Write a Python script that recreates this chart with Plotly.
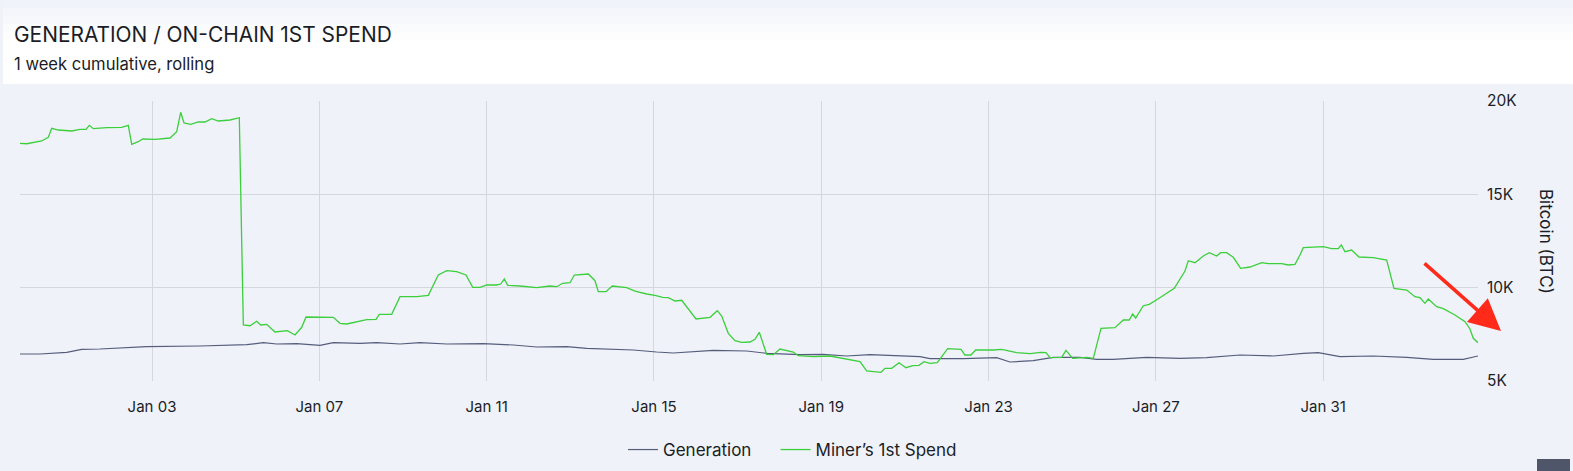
import pandas as pd
import plotly.graph_objects as go

# Time of each reading, in fractional days of January 2023 (0 = Dec 31 00:00)
spend_day = [-0.156, 0.005, 0.363, 0.521, 0.602, 0.760, 1.080, 1.279, 1.422, 1.501, 1.597, 1.917,
             2.276, 2.433, 2.515, 2.672, 2.778, 3.072, 3.430, 3.590, 3.686, 3.765, 3.925, 4.107,
             4.267, 4.427, 4.585, 4.865, 5.087, 5.183, 5.343, 5.503, 5.599, 5.742, 5.940, 6.234,
             6.419, 6.579, 6.682, 7.334, 7.494, 7.655, 8.133, 8.355, 8.434, 8.730, 8.929, 9.328,
             9.605, 9.844, 10.045, 10.284, 10.506, 10.667, 10.841, 11.001, 11.240, 11.336, 11.422,
             11.503, 11.797, 12.197, 12.515, 12.675, 12.818, 12.993, 13.096, 13.430, 13.590, 13.669,
             13.853, 14.004, 14.348, 14.547, 14.826, 15.025, 15.209, 15.343, 15.503, 15.663, 16.005,
             16.340, 16.514, 16.619, 16.777, 16.937, 17.097, 17.296, 17.415, 17.518, 17.695, 17.853,
             18.013, 18.331, 18.451, 18.809, 19.208, 19.608, 19.925, 20.085, 20.428, 20.523, 20.683,
             20.858, 21.025, 21.185, 21.336, 21.456, 21.599, 21.773, 22.022, 22.340, 22.436, 22.579,
             22.691, 23.112, 23.313, 23.671, 23.990, 24.245, 24.372, 24.468, 24.747, 24.850, 25.010,
             25.345, 25.503, 25.687, 26.021, 26.220, 26.363, 26.444, 26.516, 26.698, 26.842, 27.057,
             27.336, 27.439, 27.695, 27.774, 27.934, 28.133, 28.276, 28.453, 28.548, 28.692, 28.850,
             29.026, 29.249, 29.529, 29.686, 30.007, 30.165, 30.325, 30.444, 30.523, 31.001, 31.202,
             31.360, 31.432, 31.520, 31.680, 31.855, 32.197, 32.517, 32.691, 32.995, 33.193, 33.313,
             33.432, 33.511, 33.712, 33.870, 34.150, 34.389, 34.508, 34.587, 34.700]
spend_btc = [17732, 17710, 17857, 18055, 18537, 18446, 18393, 18482, 18482, 18696, 18518, 18571,
             18590, 18696, 17680, 17820, 17964, 17948, 18018, 18355, 19394, 18821, 18750, 18875,
             18875, 19052, 18928, 18982, 19105, 8000, 7962, 8198, 8000, 8037, 7625, 7695,
             7464, 7877, 8428, 8410, 8090, 8053, 8284, 8305, 8573, 8573, 9516, 9516,
             9591, 10678, 10909, 10855, 10678, 10020, 10020, 10143, 10143, 10196, 10464,
             10127, 10089, 9998, 10089, 10052, 10234, 10266, 10678, 10732, 10373, 9784,
             9784, 10089, 9998, 9821, 9661, 9591, 9484, 9462, 9286, 9323, 8321,
             8412, 8766, 8482, 7554, 7159, 7073, 7089, 7234, 7609, 6430, 6409,
             6714, 6553, 6355, 6302, 6339, 6179, 6034, 5536, 5466, 5680, 5680,
             5980, 5712, 5820, 5841, 6034, 5948, 5980, 6730, 6698, 6393, 6393,
             6661, 6661, 6698, 6516, 6462, 6537, 6516, 6248, 6270, 6645, 6216,
             6270, 6216, 7823, 7855, 8268, 8268, 8589, 8375, 9034, 9109, 9409,
             9837, 9966, 10893, 11445, 11338, 11696, 11873, 11696, 11873, 11873, 11627,
             11038, 11107, 11338, 11284, 11284, 11214, 11252, 11750, 12141, 12195, 12087,
             12087, 12286, 11927, 12018, 11643, 11605, 11482, 9966, 9875, 9516, 9462,
             9162, 9393, 8980, 8873, 8536, 8177, 7786, 7287, 7052]

gen_day = [-0.156, 0.323, 0.961, 1.319, 1.757, 2.873, 4.147, 5.264, 5.661, 5.981, 6.459, 7.016,
           7.334, 7.972, 8.372, 8.929, 9.407, 10.045, 10.920, 11.637, 12.197, 12.914, 13.392,
           14.028, 14.506, 15.065, 15.462, 16.418, 17.217, 17.695, 18.491, 19.048, 19.608,
           20.164, 21.360, 21.599, 22.395, 23.193, 23.511, 24.068, 24.547, 25.185, 25.584,
           25.981, 26.779, 27.575, 28.214, 29.010, 29.806, 30.523, 30.882, 31.400, 32.197,
           32.995, 33.631, 34.348, 34.700]
gen_btc = [6446, 6446, 6537, 6698, 6714, 6838, 6875, 6945, 7052, 6982, 6998, 6912,
           7052, 7020, 7052, 6982, 7052, 6982, 6998, 6929, 6821, 6838, 6752,
           6698, 6661, 6553, 6500, 6645, 6607, 6484, 6409, 6430, 6339,
           6409, 6302, 6195, 6195, 6248, 6018, 6088, 6270, 6270, 6162,
           6162, 6270, 6216, 6248, 6393, 6339, 6484, 6516, 6302, 6339,
           6270, 6162, 6162, 6339]

y_ticks = [5000, 10000, 15000, 20000]
y_tick_text = ["5K", "10K", "15K", "20K"]

base = pd.Timestamp("2022-12-31")
def to_dt(days):
    return [base + pd.to_timedelta(d, unit="D") for d in days]

gen_x = to_dt(gen_day)
spend_x = to_dt(spend_day)

BG = "#eff2f9"
FONT = "Inter, Roboto, Arial, sans-serif"
TXT = "#1b1d26"
W, H = 1573, 471
L, R, T, B = 20, 95, 101, 90
PW, PH = W - L - R, H - T - B
PAD = "\u00a0" * 4

def px(xp):
    return (xp - L) / PW

def py(yp):
    return (H - B - yp) / PH

fig = go.Figure()
fig.add_trace(go.Scatter(x=gen_x, y=gen_btc, mode="lines", name="Generation" + PAD,
                         line=dict(color="#565d7c", width=1.2)))
fig.add_trace(go.Scatter(x=spend_x, y=spend_btc, mode="lines", name="Miner\u2019s 1st Spend",
                         line=dict(color="#3ccf3c", width=1.3)))

fig.update_layout(
    width=W, height=H, autosize=False,
    margin=dict(l=L, r=R, t=T, b=B, autoexpand=False),
    paper_bgcolor=BG, plot_bgcolor=BG,
    font=dict(family=FONT, color=TXT, size=15),
    showlegend=True,
    legend=dict(orientation="h", xref="paper", x=px(623), xanchor="left",
                yref="paper", y=py(450), yanchor="middle",
                font=dict(size=17, color=TXT), bgcolor="rgba(0,0,0,0)",
                traceorder="normal"),
    xaxis=dict(type="date", range=[to_dt([-0.156])[0], to_dt([34.70])[0]],
               tick0="2023-01-03", dtick=4 * 86400000, tickformat="%b %d",
               showgrid=True, gridcolor="#d5d7de", gridwidth=1, automargin=False,
               zeroline=False, showline=False, ticks="",
               ticklabelstandoff=15, tickfont=dict(size=15, color=TXT)),
    yaxis=dict(side="right", range=[5000, 20000], tickvals=y_ticks, ticktext=y_tick_text,
               showgrid=True, gridcolor="#d5d7de", gridwidth=1, zeroline=False, automargin=False,
               showline=False, ticks="", ticklabelstandoff=8,
               tickfont=dict(size=15.5, color=TXT)),
    hovermode="x unified",
)

# header band (white, fading to background at the very top)
fig.add_shape(type="rect", xref="paper", yref="paper", x0=px(3), x1=px(W),
              y0=py(84), y1=py(40),
              fillcolor="#ffffff", line=dict(width=0), layer="below")
for i, col in enumerate(["#fdfdfe", "#fafbfd", "#f7f8fc", "#f4f6fb", "#f1f3fa"]):
    fig.add_shape(type="rect", xref="paper", yref="paper", x0=px(3), x1=px(W),
                  y0=py(40 - i * 8), y1=py(32 - i * 8),
                  fillcolor=col, line=dict(width=0), layer="below")
# bottom-right UI tab
fig.add_shape(type="rect", xref="paper", yref="paper",
              x0=px(1537), x1=px(1570), y0=py(471), y1=py(459),
              fillcolor="#50566a", line=dict(width=0))

fig.add_annotation(text="GENERATION / ON-CHAIN 1ST SPEND", xref="paper", yref="paper",
                   x=px(12), y=py(35), xanchor="left", yanchor="middle",
                   showarrow=False, font=dict(size=20.9, color=TXT, family=FONT))
fig.add_annotation(text="1 week cumulative, rolling", xref="paper", yref="paper",
                   x=px(12), y=py(64), xanchor="left", yanchor="middle",
                   showarrow=False, font=dict(size=16.6, color=TXT, family=FONT))
fig.add_annotation(text="Bitcoin (BTC)", xref="paper", yref="paper",
                   x=px(1546), y=py(241), xanchor="center", yanchor="middle",
                   textangle=90, showarrow=False, font=dict(size=17, color=TXT, family=FONT))
# red arrow
fig.add_annotation(text="", xref="paper", yref="paper",
                   x=px(1501), y=py(331),
                   ax=-78, ay=-69, showarrow=True, arrowhead=2, arrowsize=1.8,
                   arrowwidth=3.5, arrowcolor="#ff2a1a")

fig.write_html("out.html", config={"displayModeBar": False},
               post_script="document.body.style.margin='0';")
